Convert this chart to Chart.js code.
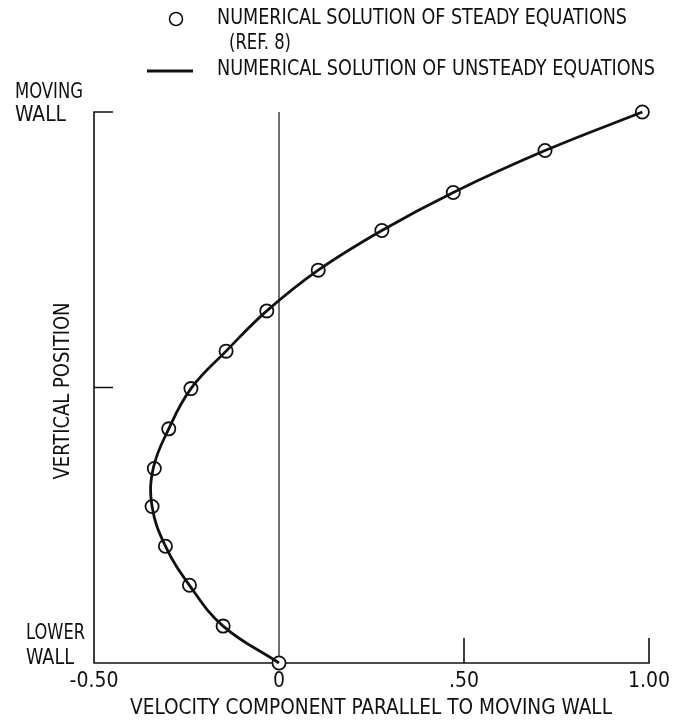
<!DOCTYPE html>
<html>
<head>
<meta charset="utf-8">
<script src="https://cdn.jsdelivr.net/npm/chart.js@4"></script>
<style>
  body { margin: 0; background: #fff; }
  #wrap { width: 678px; height: 720px; }
</style>
</head>
<body>
<div id="wrap"><canvas id="chart" width="678" height="720"></canvas></div>
<script>
// steady solution (circles)
const steadyU = [0, -0.151, -0.242, -0.307, -0.343, -0.337, -0.298, -0.238, -0.143, -0.033, 0.106, 0.278, 0.471, 0.719, 0.982];
const steadyY = [0, 0.067, 0.141, 0.212, 0.284, 0.353, 0.425, 0.498, 0.566, 0.639, 0.713, 0.785, 0.854, 0.930, 1.0];

// unsteady solution (solid curve)
const unsteadyU = [0, -0.151, -0.242, -0.307, -0.343, -0.340, -0.298, -0.238, -0.143, -0.033, 0.106, 0.278, 0.471, 0.719, 0.982];
const unsteadyY = [0, 0.067, 0.141, 0.212, 0.284, 0.353, 0.425, 0.498, 0.566, 0.639, 0.713, 0.785, 0.854, 0.930, 1.0];

const xTickValues = [-0.5, 0, 0.5, 1.0];
const xTickLabels = ['-0.50', '0', '.50', '1.00'];

const legendLabels = ['NUMERICAL SOLUTION OF STEADY EQUATIONS', '(REF. 8)', 'NUMERICAL SOLUTION OF UNSTEADY EQUATIONS'];
const xTitle = 'VELOCITY COMPONENT PARALLEL TO MOVING WALL';
const yTitle = 'VERTICAL POSITION';
const topLabel = ['MOVING', 'WALL'];
const bottomLabel = ['LOWER', 'WALL'];

const FONT = '"Liberation Sans Narrow", "DejaVu Sans Condensed", "Noto Sans", sans-serif';
const INK = '#111';

const toPoints = (xs, ys) => xs.map((x, i) => ({ x: x, y: ys[i] }));

const framePlugin = {
    id: 'frame',
    beforeDatasetsDraw(chart) {
        const ctx = chart.ctx;
        const xs = chart.scales.x;
        const ys = chart.scales.y;
        const left = xs.getPixelForValue(-0.5);
        const right = xs.getPixelForValue(1.0);
        const top = ys.getPixelForValue(1);
        const bottom = ys.getPixelForValue(0);
        const zero = xs.getPixelForValue(0);

        ctx.save();
        ctx.strokeStyle = INK;
        ctx.lineWidth = 1.6;
        ctx.beginPath();
        // left axis with top tick
        ctx.moveTo(left + 19, top);
        ctx.lineTo(left, top);
        ctx.lineTo(left, bottom);
        ctx.lineTo(right, bottom);
        ctx.lineTo(right, bottom - 25);
        // middle tick on left
        const mid = ys.getPixelForValue(0.5);
        ctx.moveTo(left, mid);
        ctx.lineTo(left + 19, mid);
        // .50 tick
        const half = xs.getPixelForValue(0.5);
        ctx.moveTo(half, bottom);
        ctx.lineTo(half, bottom - 25);
        ctx.stroke();

        // zero line
        ctx.lineWidth = 1.2;
        ctx.beginPath();
        ctx.moveTo(zero, top);
        ctx.lineTo(zero, bottom);
        ctx.stroke();
        ctx.restore();
    },
    afterDraw(chart) {
        const ctx = chart.ctx;
        const xs = chart.scales.x;
        const ys = chart.scales.y;
        const bottom = ys.getPixelForValue(0);
        const top = ys.getPixelForValue(1);

        ctx.save();
        ctx.fillStyle = INK;
        ctx.font = '21px ' + FONT;
        ctx.textBaseline = 'middle';

        // tick labels
        ctx.textAlign = 'center';
        xTickValues.forEach((v, i) => {
            ctx.fillText(xTickLabels[i], xs.getPixelForValue(v), bottom + 19);
        });
        ctx.fillText(xTitle, 371, bottom + 46, 482);

        // wall labels
        ctx.textAlign = 'left';
        ctx.fillText(topLabel[0], 15, top - 19, 68);
        ctx.fillText(topLabel[1], 15, top + 4, 51);
        ctx.fillText(bottomLabel[0], 26, bottom - 29, 59);
        ctx.fillText(bottomLabel[1], 26, bottom - 4, 48);

        // vertical title
        ctx.save();
        ctx.translate(64, 391);
        ctx.rotate(-Math.PI / 2);
        ctx.textAlign = 'center';
        ctx.fillText(yTitle, 0, 0, 177);
        ctx.restore();

        // legend
        ctx.textAlign = 'left';
        ctx.fillText(legendLabels[0], 217, 19, 410);
        ctx.fillText(legendLabels[1], 229, 44, 62);
        ctx.fillText(legendLabels[2], 217, 70, 438);

        ctx.lineWidth = 1.6;
        ctx.strokeStyle = INK;
        ctx.beginPath();
        ctx.arc(176, 19, 6.5, 0, Math.PI * 2);
        ctx.stroke();

        ctx.lineWidth = 2.8;
        ctx.beginPath();
        ctx.moveTo(147, 71);
        ctx.lineTo(193, 71);
        ctx.stroke();
        ctx.restore();
    }
};

new Chart(document.getElementById('chart'), {
    type: 'scatter',
    data: {
        datasets: [
            {
                label: 'unsteady',
                data: toPoints(unsteadyU, unsteadyY),
                showLine: true,
                borderColor: INK,
                borderWidth: 2.8,
                tension: 0.4,
                pointRadius: 0,
                clip: false
            },
            {
                label: 'steady',
                data: toPoints(steadyU, steadyY),
                showLine: false,
                pointRadius: 6.6,
                pointBorderWidth: 1.8,
                pointBorderColor: INK,
                pointBackgroundColor: '#fff',
                clip: false
            }
        ]
    },
    options: {
        responsive: false,
        animation: false,
        layout: {
            padding: { left: 94, right: 29, top: 112, bottom: 57 }
        },
        scales: {
            x: { type: 'linear', min: -0.5, max: 1.0, display: false },
            y: { type: 'linear', min: 0, max: 1, display: false }
        },
        plugins: {
            legend: { display: false },
            tooltip: { enabled: false }
        }
    },
    plugins: [framePlugin]
});
</script>
</body>
</html>
